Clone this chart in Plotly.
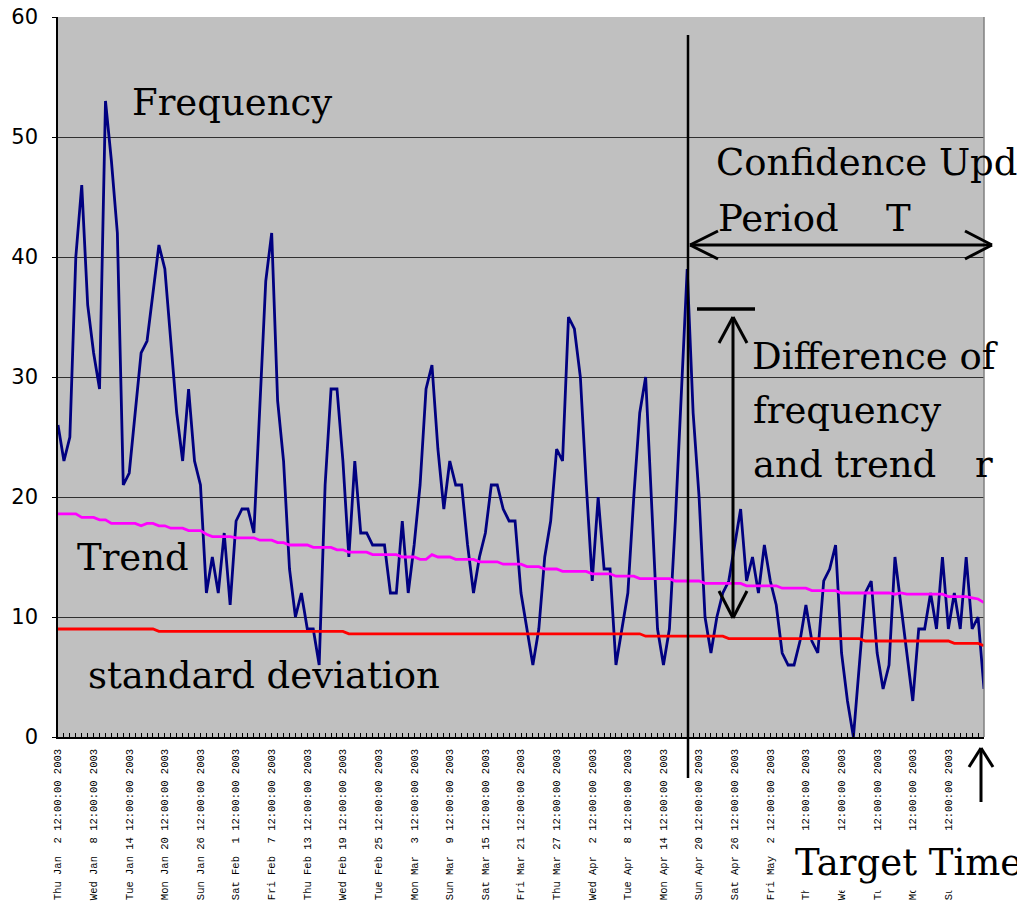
import pandas as pd
import plotly.graph_objects as go

# daily frequency of the topic, Jan 2 2003 .. Jun 7 2003
frequency = [
    26, 23, 25, 40, 46, 36, 32, 29, 53, 48,
    42, 21, 22, 27, 32, 33, 37, 41, 39, 33,
    27, 23, 29, 23, 21, 12, 15, 12, 17, 11,
    18, 19, 19, 17, 28, 38, 42, 28, 23, 14,
    10, 12, 9, 9, 6, 21, 29, 29, 23, 15,
    23, 17, 17, 16, 16, 16, 12, 12, 18, 12,
    16, 21, 29, 31, 24, 19, 23, 21, 21, 16,
    12, 15, 17, 21, 21, 19, 18, 18, 12, 9,
    6, 9, 15, 18, 24, 23, 35, 34, 30, 21,
    13, 20, 14, 14, 6, 9, 12, 20, 27, 30,
    20, 9, 6, 9, 18, 28, 39, 27, 20, 10,
    7, 10, 12, 13, 16, 19, 13, 15, 12, 16,
    13, 11, 7, 6, 6, 8, 11, 8, 7, 13,
    14, 16, 7, 3, 0, 6, 12, 13, 7, 4,
    6, 15, 11, 7, 3, 9, 9, 12, 9, 15,
    9, 12, 9, 15, 9, 10, 4,
]

trend = [
    18.6, 18.6, 18.6, 18.6, 18.3, 18.3, 18.3, 18.1, 18.1, 17.8,
    17.8, 17.8, 17.8, 17.8, 17.6, 17.8, 17.8, 17.6, 17.6, 17.4,
    17.4, 17.4, 17.2, 17.2, 17.2, 16.9, 16.7, 16.7, 16.7, 16.7,
    16.6, 16.6, 16.6, 16.6, 16.4, 16.4, 16.4, 16.2, 16.2, 16.0,
    16.0, 16.0, 16.0, 15.8, 15.8, 15.8, 15.8, 15.6, 15.6, 15.4,
    15.4, 15.4, 15.4, 15.2, 15.2, 15.2, 15.2, 15.2, 15.0, 15.0,
    15.0, 14.8, 14.8, 15.2, 15.0, 15.0, 15.0, 14.8, 14.8, 14.8,
    14.8, 14.6, 14.6, 14.6, 14.6, 14.4, 14.4, 14.4, 14.4, 14.2,
    14.2, 14.2, 14.0, 14.0, 14.0, 13.8, 13.8, 13.8, 13.8, 13.8,
    13.6, 13.6, 13.6, 13.6, 13.4, 13.4, 13.4, 13.4, 13.2, 13.2,
    13.2, 13.2, 13.2, 13.2, 13.0, 13.0, 13.0, 13.0, 13.0, 12.8,
    12.8, 12.8, 12.8, 12.8, 12.8, 12.8, 12.6, 12.6, 12.6, 12.6,
    12.6, 12.6, 12.4, 12.4, 12.4, 12.4, 12.4, 12.2, 12.2, 12.2,
    12.2, 12.2, 12.0, 12.0, 12.0, 12.0, 12.0, 12.0, 12.0, 12.0,
    12.0, 11.9, 12.0, 11.9, 11.9, 11.9, 11.9, 11.9, 11.9, 11.9,
    11.7, 11.7, 11.7, 11.7, 11.6, 11.5, 11.2,
]

std_dev = [
    9.0, 9.0, 9.0, 9.0, 9.0, 9.0, 9.0, 9.0, 9.0, 9.0,
    9.0, 9.0, 9.0, 9.0, 9.0, 9.0, 9.0, 8.8, 8.8, 8.8,
    8.8, 8.8, 8.8, 8.8, 8.8, 8.8, 8.8, 8.8, 8.8, 8.8,
    8.8, 8.8, 8.8, 8.8, 8.8, 8.8, 8.8, 8.8, 8.8, 8.8,
    8.8, 8.8, 8.8, 8.8, 8.8, 8.8, 8.8, 8.8, 8.8, 8.6,
    8.6, 8.6, 8.6, 8.6, 8.6, 8.6, 8.6, 8.6, 8.6, 8.6,
    8.6, 8.6, 8.6, 8.6, 8.6, 8.6, 8.6, 8.6, 8.6, 8.6,
    8.6, 8.6, 8.6, 8.6, 8.6, 8.6, 8.6, 8.6, 8.6, 8.6,
    8.6, 8.6, 8.6, 8.6, 8.6, 8.6, 8.6, 8.6, 8.6, 8.6,
    8.6, 8.6, 8.6, 8.6, 8.6, 8.6, 8.6, 8.6, 8.6, 8.4,
    8.4, 8.4, 8.4, 8.4, 8.4, 8.4, 8.4, 8.4, 8.4, 8.4,
    8.4, 8.4, 8.4, 8.2, 8.2, 8.2, 8.2, 8.2, 8.2, 8.2,
    8.2, 8.2, 8.2, 8.2, 8.2, 8.2, 8.2, 8.2, 8.2, 8.2,
    8.2, 8.2, 8.2, 8.2, 8.2, 8.2, 8.0, 8.0, 8.0, 8.0,
    8.0, 8.0, 8.0, 8.0, 8.0, 8.0, 8.0, 8.0, 8.0, 8.0,
    8.0, 7.8, 7.8, 7.8, 7.8, 7.8, 7.6,
]

tick_labels = [
    "Thu Jan  2 12:00:00 2003", "Wed Jan  8 12:00:00 2003", "Tue Jan 14 12:00:00 2003",
    "Mon Jan 20 12:00:00 2003", "Sun Jan 26 12:00:00 2003", "Sat Feb  1 12:00:00 2003",
    "Fri Feb  7 12:00:00 2003", "Thu Feb 13 12:00:00 2003", "Wed Feb 19 12:00:00 2003",
    "Tue Feb 25 12:00:00 2003", "Mon Mar  3 12:00:00 2003", "Sun Mar  9 12:00:00 2003",
    "Sat Mar 15 12:00:00 2003", "Fri Mar 21 12:00:00 2003", "Thu Mar 27 12:00:00 2003",
    "Wed Apr  2 12:00:00 2003", "Tue Apr  8 12:00:00 2003", "Mon Apr 14 12:00:00 2003",
    "Sun Apr 20 12:00:00 2003", "Sat Apr 26 12:00:00 2003", "Fri May  2 12:00:00 2003",
    "Thu May  8 12:00:00 2003", "Wed May 14 12:00:00 2003", "Tue May 20 12:00:00 2003",
    "Mon May 26 12:00:00 2003", "Sun Jun  1 12:00:00 2003",
]

dates = pd.date_range("2003-01-02 12:00", periods=len(frequency), freq="D")
tick_dates = list(dates[::6])[:len(tick_labels)]

# the page body has an 8px margin, so the figure is shrunk by that much
PAGE_W, PAGE_H, BODY = 1025, 908, 8
# plot area in page pixels, used to place the hand-drawn arrows and notes
PLOT_L, PLOT_R, PLOT_T, PLOT_B = 58, 984, 17, 737
NOTE_FONT = dict(family="DejaVu Serif", size=37, color="black")


def px(x):
    return (x - PLOT_L) / (PLOT_R - PLOT_L)


def py(y):
    return (PLOT_B - y) / (PLOT_B - PLOT_T)


def seg(x0, y0, x1, y1, width=3, color="black"):
    return dict(type="line", xref="paper", yref="paper",
                x0=px(x0), y0=py(y0), x1=px(x1), y1=py(y1),
                line=dict(color=color, width=width))


def note(text, x, y, xanchor="left", **kw):
    return dict(text=text, xref="paper", yref="paper", x=px(x), y=py(y),
                xanchor=xanchor, yanchor="middle", showarrow=False,
                font=NOTE_FONT, **kw)


fig = go.Figure()
fig.add_trace(go.Scatter(x=dates, y=frequency, mode="lines", name="Frequency",
                         line=dict(color="#000080", width=2.8)))
fig.add_trace(go.Scatter(x=dates, y=trend, mode="lines", name="Trend",
                         line=dict(color="#FF00FF", width=2.8)))
fig.add_trace(go.Scatter(x=dates, y=std_dev, mode="lines", name="standard deviation",
                         line=dict(color="#FF0000", width=2.8)))

shapes = [
    seg(PLOT_R, PLOT_T, PLOT_R, PLOT_B, width=1.5, color="#808080"),
    # start of the confidence update period
    seg(688, 35, 688, 778, width=2.5),
    # period T double arrow
    seg(690, 245, 992, 245),
    seg(690, 245, 718, 231), seg(690, 245, 718, 259),
    seg(992, 245, 965, 231), seg(992, 245, 965, 259),
    # difference of frequency and trend
    seg(697, 309, 755, 309, width=3.5),
    seg(733, 317, 733, 618),
    seg(733, 317, 719, 343), seg(733, 317, 747, 343),
    seg(733, 618, 719, 591), seg(733, 618, 747, 591),
    # target time
    seg(981, 748, 981, 802),
    seg(981, 748, 969, 767), seg(981, 748, 993, 767),
]

annotations = [
    note("Frequency", 232, 102, xanchor="center"),
    note("Trend", 133, 557, xanchor="center"),
    note("standard deviation", 264, 675, xanchor="center"),
    note("Confidence Update", 714, 163),
    note("Period", 716, 218),
    note("T", 884, 218),
    note("Difference of", 750, 356),
    note("frequency", 751, 410),
    note("and trend", 751, 464),
    note("r", 973, 464),
    note("Target Time", 788, 862, bgcolor="white", borderpad=6),
]

fig.update_layout(
    width=PAGE_W - BODY, height=PAGE_H - BODY,
    margin=dict(l=PLOT_L - BODY, r=PAGE_W - PLOT_R, t=PLOT_T - BODY,
                b=PAGE_H - PLOT_B, pad=0),
    plot_bgcolor="#C0C0C0", paper_bgcolor="white",
    showlegend=False,
    shapes=shapes,
    annotations=annotations,
    xaxis=dict(
        type="date", range=[dates[0], dates[-1]], automargin=False,
        tickmode="array", tickvals=tick_dates, ticktext=tick_labels,
        tickangle=-90, ticks="inside", ticklen=4, tickcolor="black",
        ticklabelstandoff=6, ticklabeloverflow="allow",
        minor=dict(tick0=dates[0], dtick=86400000, ticks="inside", ticklen=4,
                   tickcolor="black", showgrid=False),
        showgrid=False, zeroline=False,
        showline=True, linecolor="black", linewidth=1.5,
        tickfont=dict(family="Liberation Mono", size=10.5, color="black"),
    ),
    yaxis=dict(
        range=[0, 60], dtick=10, automargin=False,
        showgrid=True, gridcolor="#303030", gridwidth=1,
        zeroline=False, showline=True, linecolor="black", linewidth=1.5,
        ticks="outside", ticklen=4, tickcolor="black", ticklabelstandoff=10,
        ticklabeloverflow="allow",
        tickfont=dict(family="DejaVu Sans", size=21, color="black"),
    ),
)

fig.write_html("out.html")
